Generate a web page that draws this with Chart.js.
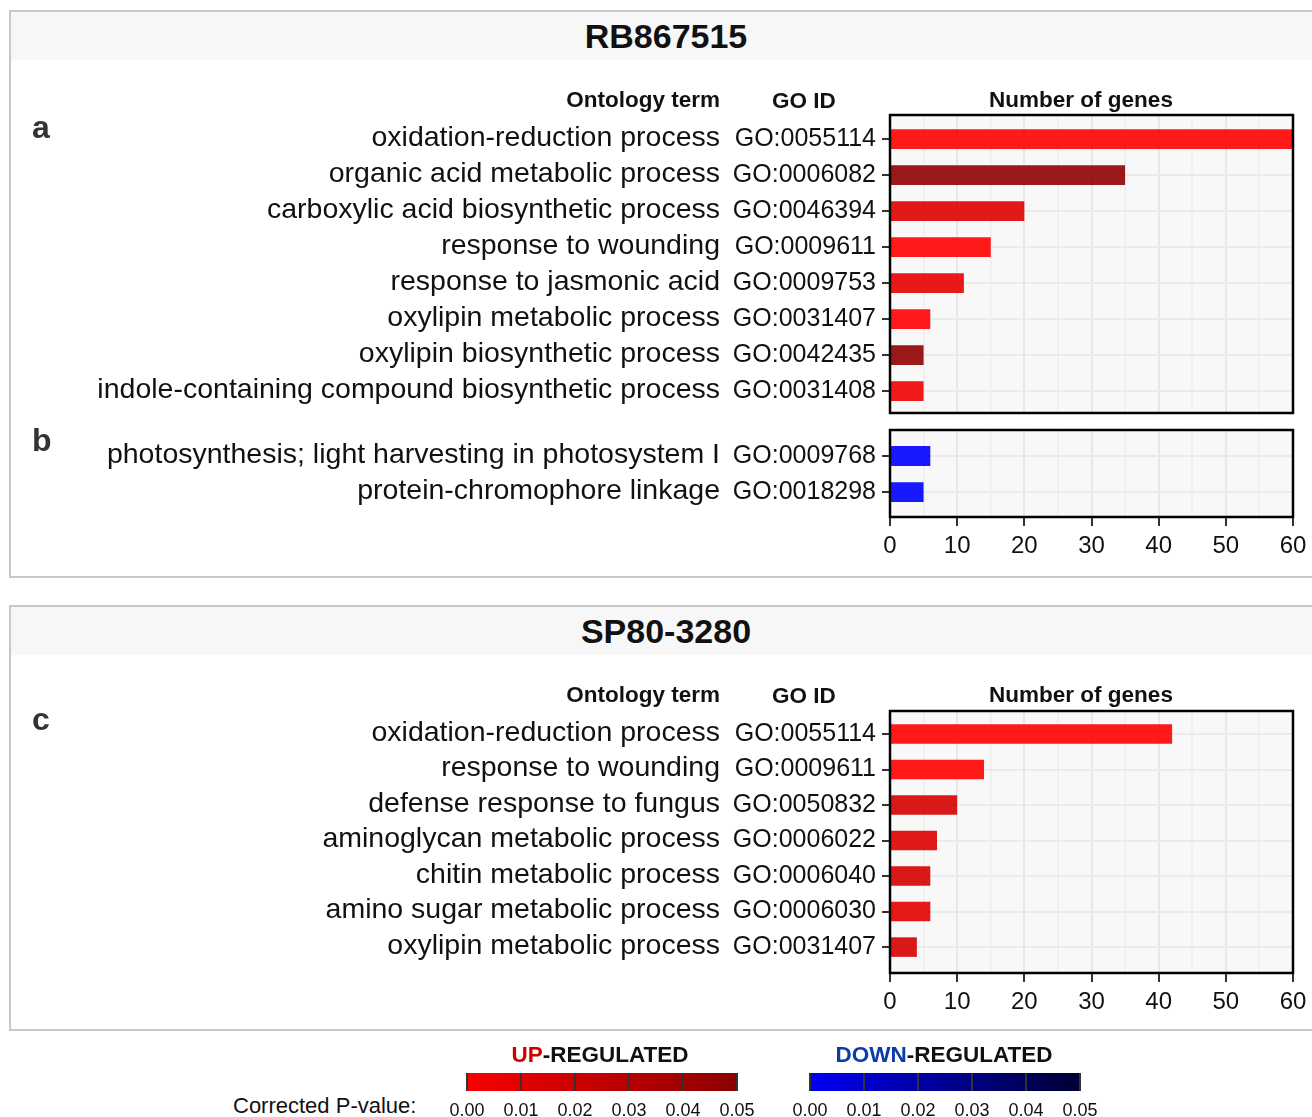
<!DOCTYPE html>
<html>
<head>
<meta charset="utf-8">
<script src="https://cdn.jsdelivr.net/npm/chart.js@4.4.1/dist/chart.umd.min.js"></script>
<style>
  body { margin: 0; width: 1312px; height: 1117px; overflow: hidden; background: #fff;
         font-family: "Liberation Sans", Arial, sans-serif; color: #111; position: relative; }
  .panel { position: absolute; left: 9px; width: 1330px; border: 2px solid #c8c8c8; box-sizing: border-box; }
  .band { position: absolute; left: 0; right: 0; top: 0; height: 48px; background: #f7f7f7; }
  .t { position: absolute; white-space: nowrap; height: 40px; line-height: 40px; }
  .title { font-weight: bold; font-size: 34px; left: 0; width: 1332px; text-align: center; }
  .hd { font-weight: bold; font-size: 22.5px; }
  .letter { font-weight: bold; font-size: 32px; color: #333; left: 32px; }
  canvas { position: absolute; left: 0; }
  .bar { position: absolute; height: 18px; }
  .div { position: absolute; width: 2px; height: 18px; background: #333; }
</style>
</head>
<body>

<div class="panel" style="top:10px;height:568px"><div class="band"></div></div>
<div class="panel" style="top:605px;height:426px"><div class="band"></div></div>

<canvas id="chartA" width="1312" height="340" style="top:80px"></canvas>
<canvas id="chartB" width="1312" height="160" style="top:420px"></canvas>
<canvas id="chartC" width="1312" height="360" style="top:680px"></canvas>

<div class="t title" style="top:16px">RB867515</div>
<div class="t title" style="top:611px">SP80-3280</div>

<div class="t letter" style="top:107px">a</div>
<div class="t letter" style="top:420px">b</div>
<div class="t letter" style="top:699px">c</div>

<div class="t hd" style="top:80px;left:420px;width:300px;text-align:right">Ontology term</div>
<div class="t hd" style="top:81px;left:704px;width:200px;text-align:center">GO ID</div>
<div class="t hd" style="top:80px;left:931px;width:300px;text-align:center">Number of genes</div>
<div class="t hd" style="top:675px;left:420px;width:300px;text-align:right">Ontology term</div>
<div class="t hd" style="top:676px;left:704px;width:200px;text-align:center">GO ID</div>
<div class="t hd" style="top:675px;left:931px;width:300px;text-align:center">Number of genes</div>

<div class="t hd" style="top:1035px;left:450px;width:300px;text-align:center"><span style="color:#d00000">UP</span>-REGULATED</div>
<div class="t hd" style="top:1035px;left:794px;width:300px;text-align:center"><span style="color:#0a3ca8">DOWN</span>-REGULATED</div>
<div class="t" style="top:1086px;left:233px;font-size:22px">Corrected P-value:</div>
<div id="legend"></div>

<script>
// RB867515, up-regulated (a)
const termsA = ['oxidation-reduction process', 'organic acid metabolic process',
  'carboxylic acid biosynthetic process', 'response to wounding', 'response to jasmonic acid',
  'oxylipin metabolic process', 'oxylipin biosynthetic process',
  'indole-containing compound biosynthetic process'];
const goA = ['GO:0055114', 'GO:0006082', 'GO:0046394', 'GO:0009611', 'GO:0009753',
  'GO:0031407', 'GO:0042435', 'GO:0031408'];
const genesA = [60, 35, 20, 15, 11, 6, 5, 5];
const pvalA = [0.000, 0.047, 0.014, 0.000, 0.010, 0.000, 0.048, 0.007];

// RB867515, down-regulated (b)
const termsB = ['photosynthesis; light harvesting in photosystem I', 'protein-chromophore linkage'];
const goB = ['GO:0009768', 'GO:0018298'];
const genesB = [6, 5];
const pvalB = [0.000, 0.000];

// SP80-3280, up-regulated (c)
const termsC = ['oxidation-reduction process', 'response to wounding', 'defense response to fungus',
  'aminoglycan metabolic process', 'chitin metabolic process', 'amino sugar metabolic process',
  'oxylipin metabolic process'];
const goC = ['GO:0055114', 'GO:0009611', 'GO:0050832', 'GO:0006022', 'GO:0006040',
  'GO:0006030', 'GO:0031407'];
const genesC = [42, 14, 10, 7, 6, 6, 4];
const pvalC = [0.000, 0.000, 0.018, 0.014, 0.018, 0.011, 0.018];

const xLabels = [0, 10, 20, 30, 40, 50, 60];
const pTicks = ['0.00', '0.01', '0.02', '0.03', '0.04', '0.05'];

const FONT = '"Liberation Sans", Arial, sans-serif';
Chart.defaults.font.family = FONT;
Chart.defaults.color = '#111';

function upColor(p, a) {
  const t = Math.min(p / 0.05, 1);
  return 'rgba(' + Math.round(255 - 116 * t) + ',0,0,' + a + ')';
}
function downColor(p, a) {
  const t = Math.min(p / 0.05, 1);
  return 'rgba(0,0,' + Math.round(255 - 204 * t) + ',' + a + ')';
}

// panel background, black frame and the ontology term column
const frame = {
  id: 'frame',
  beforeDraw(chart) {
    const a = chart.chartArea, ctx = chart.ctx;
    ctx.save();
    ctx.fillStyle = '#f8f8f8';
    ctx.fillRect(a.left, a.top, a.width, a.height);
    ctx.restore();
  },
  afterDraw(chart, args, opts) {
    const a = chart.chartArea, ctx = chart.ctx, ys = chart.scales.y;
    ctx.save();
    ctx.strokeStyle = '#000';
    ctx.lineWidth = 2.5;
    ctx.strokeRect(a.left, a.top, a.width, a.height);
    ctx.font = '28.5px ' + FONT;
    ctx.fillStyle = '#111';
    ctx.textAlign = 'right';
    ctx.textBaseline = 'middle';
    opts.terms.forEach((t, i) => ctx.fillText(t, 720, ys.getPixelForValue(i) - 1));
    ctx.restore();
  }
};

function build(id, terms, ids, genes, colors, o) {
  return new Chart(document.getElementById(id), {
    type: 'bar',
    data: {
      datasets: [{
        data: genes.map((g, i) => ({ x: g, y: i })),
        backgroundColor: colors,
        barPercentage: 0.55,
        categoryPercentage: 1
      }]
    },
    options: {
      indexAxis: 'y',
      responsive: false,
      animation: false,
      layout: { padding: o.padding },
      plugins: { legend: { display: false }, tooltip: { enabled: false }, frame: { terms: terms } },
      scales: {
        x: {
          type: 'linear', min: 0, max: 60,
          border: { display: false },
          ticks: {
            display: o.showX, stepSize: 5, autoSkip: false, maxRotation: 0,
            font: { size: 24 }, color: '#111', padding: 6,
            callback: v => xLabels.includes(v) ? v : ''
          },
          grid: {
            color: c => c.tick && c.tick.value % 10 === 0 ? '#e8e8e8' : '#f0f0f0',
            lineWidth: 2, drawTicks: o.showX, tickLength: 9, tickWidth: 2,
            tickColor: c => c.tick && c.tick.value % 10 === 0 ? '#333' : 'rgba(0,0,0,0)'
          },
          afterFit: s => { s.height = o.xh; s.paddingLeft = 0; s.paddingRight = 0; }
        },
        y: {
          type: 'linear', reverse: true, offset: false,
          min: -o.pad[0], max: terms.length - 1 + o.pad[1],
          border: { display: false },
          afterBuildTicks: s => { s.ticks = ids.map((_, i) => ({ value: i })); },
          ticks: { font: { size: 25 }, color: '#111', padding: 6, callback: v => ids[v] },
          grid: { offset: false, color: '#ebebeb', lineWidth: 2, tickLength: 8, tickWidth: 2, tickColor: '#333' },
          afterFit: s => { s.width = 890; s.paddingTop = 0; s.paddingBottom = 0; }
        }
      }
    },
    plugins: [frame]
  });
}

build('chartA', termsA, goA, genesA, pvalA.map(p => upColor(p, 0.9)),
  { padding: { top: 35, right: 19, bottom: 7, left: 0 }, showX: false, xh: 0, pad: [0.67, 0.61] });
build('chartB', termsB, goB, genesB, pvalB.map(p => downColor(p, 0.9)),
  { padding: { top: 10, right: 19, bottom: 13, left: 0 }, showX: true, xh: 50, pad: [0.72, 0.69] });
build('chartC', termsC, goC, genesC, pvalC.map(p => upColor(p, 0.9)),
  { padding: { top: 31, right: 19, bottom: 17, left: 0 }, showX: true, xh: 50, pad: [0.65, 0.73] });

// colour bars of the legend
function colorbar(left, colorFn) {
  const host = document.getElementById('legend');
  const bar = document.createElement('div');
  bar.className = 'bar';
  bar.style.left = left + 'px';
  bar.style.top = '1073px';
  bar.style.width = '270px';
  bar.style.background = 'linear-gradient(to right,' + colorFn(0.003, 1) + ',' + colorFn(0.05, 1) + ')';
  host.appendChild(bar);
  pTicks.forEach((lab, k) => {
    const x = left + k * 54;
    const d = document.createElement('div');
    d.className = 'div';
    d.style.left = (x - 1) + 'px';
    d.style.top = '1073px';
    host.appendChild(d);
    const t = document.createElement('div');
    t.className = 't';
    t.style.cssText = 'top:1090px;left:' + (x - 40) + 'px;width:80px;text-align:center;font-size:18px';
    t.textContent = lab;
    host.appendChild(t);
  });
}
colorbar(467, upColor);
colorbar(810, downColor);
</script>
</body>
</html>
